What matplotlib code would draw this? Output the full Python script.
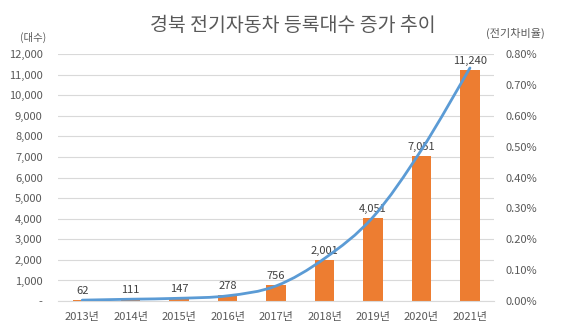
import numpy as np
import matplotlib.pyplot as plt
from matplotlib.path import Path
from matplotlib.patches import PathPatch

plt.rcParams['font.family'] = ['Noto Sans CJK KR', 'DejaVu Sans']

# data
years = ['2013년', '2014년', '2015년', '2016년', '2017년', '2018년', '2019년', '2020년', '2021년']
counts = [62, 111, 147, 278, 756, 2001, 4051, 7051, 11240]
ratio = [0.003, 0.006, 0.009, 0.017, 0.049, 0.138, 0.272, 0.490, 0.755]  # percent

bar_color = '#ED7D31'
line_color = '#5B9BD5'
text_color = '#595959'
grid_color = '#D9D9D9'

fig = plt.figure(figsize=(5.8, 3.36), dpi=100)
ax = fig.add_axes([0.1, 0.104, 0.752, 0.735])
ax2 = ax.twinx()

x = np.arange(len(years))
ax.bar(x, counts, width=0.4, color=bar_color, zorder=2)
for xi, c in zip(x, counts):
    ax.annotate(f'{c:,}', (xi, c), xytext=(0, 3), textcoords='offset points',
                ha='center', va='bottom', fontsize=8, color='#404040')

ax.set_xlim(-0.5, len(years) - 0.5)
ax.set_ylim(0, 12000)
ax.set_yticks(np.arange(0, 12001, 1000))
ax.set_yticklabels(['-'] + [f'{v:,}' for v in range(1000, 12001, 1000)])
ax.set_xticks(x)
ax.set_xticklabels(years)
ax.grid(axis='y', color=grid_color, linewidth=0.8, zorder=0)
ax.set_axisbelow(True)

# smoothed line (Catmull-Rom -> bezier)
pts = np.column_stack([x, ratio])
verts = [pts[0]]
codes = [Path.MOVETO]
for i in range(len(pts) - 1):
    p0 = pts[i - 1] if i > 0 else pts[i]
    p1, p2 = pts[i], pts[i + 1]
    p3 = pts[i + 2] if i + 2 < len(pts) else pts[i + 1]
    verts += [p1 + (p2 - p0) / 6, p2 - (p3 - p1) / 6, p2]
    codes += [Path.CURVE4] * 3
ax2.add_patch(PathPatch(Path(verts, codes), facecolor='none',
                        edgecolor=line_color, linewidth=2, capstyle='round', zorder=3))
ax2.set_ylim(0, 0.8)
ax2.set_yticks(np.arange(0, 0.81, 0.1))
ax2.set_yticklabels([f'{v:.2f}%' for v in np.arange(0, 0.81, 0.1)])

for a in (ax, ax2):
    for s in a.spines.values():
        s.set_visible(False)
    a.tick_params(length=0, labelsize=8, labelcolor=text_color)
ax.spines['bottom'].set_visible(True)
ax.spines['bottom'].set_color(grid_color)
ax.tick_params(axis='x', pad=8)
ax.tick_params(axis='y', pad=11)
ax2.tick_params(axis='y', pad=8)

fig.text(0.505, 0.925, '경북 전기자동차 등록대수 증가 추이', ha='center', va='center',
         fontsize=14, color=text_color)
fig.text(0.057, 0.89, '(대수)', ha='center', va='center', fontsize=7.5, color=text_color)
fig.text(0.888, 0.9, '(전기차비율)', ha='center', va='center', fontsize=8, color=text_color)

fig.savefig('out.png', dpi=100)
